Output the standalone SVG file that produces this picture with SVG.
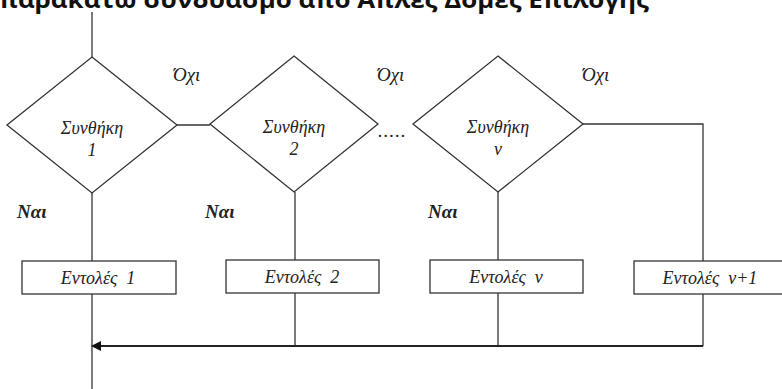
<svg xmlns="http://www.w3.org/2000/svg" width="782" height="389" viewBox="0 0 782 389">
<style>
.ln{stroke:#333;stroke-width:1.3;fill:none}
.shape{stroke:#333;stroke-width:1.3;fill:#fff}
.t{font-family:"Liberation Serif","Times New Roman",serif;font-style:italic;font-size:18px;fill:#222;text-anchor:middle}
.lab{font-family:"Liberation Serif","Times New Roman",serif;font-style:italic;font-size:19px;fill:#222}
.nai{font-family:"Liberation Serif","Times New Roman",serif;font-style:italic;font-weight:bold;font-size:19px;fill:#222}
.title{font-family:"Open Sans","DejaVu Sans",sans-serif;font-weight:bold;font-size:24px;fill:#111}
</style>
<text class="title" x="-1" y="8" textLength="650" lengthAdjust="spacingAndGlyphs">παρακάτω συνδυασμό από Απλές Δομές Επιλογής</text>
<g id="connectors">
<line class="ln" x1="92" y1="12" x2="92" y2="57"/>
<line class="ln" x1="177" y1="125" x2="210" y2="125"/>
<path class="ln" d="M583,124 H703 V261"/>
<line class="ln" x1="92" y1="193" x2="92" y2="261"/>
<line class="ln" x1="295" y1="192" x2="295" y2="260"/>
<line class="ln" x1="498" y1="192" x2="498" y2="260"/>
<line class="ln" x1="92" y1="294" x2="92" y2="389"/>
<line class="ln" x1="295" y1="293" x2="295" y2="346"/>
<line class="ln" x1="498" y1="293" x2="498" y2="346"/>
<line class="ln" x1="703" y1="294" x2="703" y2="346"/>
<path d="M703,346 H101" stroke="#222" stroke-width="2" fill="none"/>
<path d="M101,341 L91,346 L101,351 Z" fill="#111"/>
</g>
<g id="cond1">
<polygon class="shape" points="92,57 177,125 92,193 7,125"/>
<text class="t" x="92" y="134">Συνθήκη</text>
<text class="t" x="92" y="156">1</text>
</g>
<g id="cond2">
<polygon class="shape" points="294,56 378,124 294,192 210,124"/>
<text class="t" x="294" y="133">Συνθήκη</text>
<text class="t" x="294" y="155">2</text>
</g>
<text class="lab" x="378" y="137" font-style="normal" font-size="16" letter-spacing="1">.....</text>
<g id="condv">
<polygon class="shape" points="498,56 583,124 498,192 413,124"/>
<text class="t" x="498" y="133">Συνθήκη</text>
<text class="t" x="498" y="155">ν</text>
</g>
<g id="labels">
<text class="lab" x="173" y="81">Όχι</text>
<text class="lab" x="377" y="81">Όχι</text>
<text class="lab" x="582" y="81">Όχι</text>
<text class="nai" x="17" y="218">Ναι</text>
<text class="nai" x="205" y="218">Ναι</text>
<text class="nai" x="428" y="218">Ναι</text>
</g>
<g id="box1">
<rect class="shape" x="22" y="261" width="154" height="33"/>
<text class="t" x="98" y="284">Εντολές&#160; 1</text>
</g>
<g id="box2">
<rect class="shape" x="226" y="260" width="153" height="33"/>
<text class="t" x="302" y="283">Εντολές&#160; 2</text>
</g>
<g id="boxv">
<rect class="shape" x="430" y="260" width="153" height="33"/>
<text class="t" x="506" y="283">Εντολές&#160; ν</text>
</g>
<g id="boxv1">
<rect class="shape" x="634" y="261" width="160" height="33"/>
<text class="t" x="710" y="284">Εντολές&#160; ν+1</text>
</g>
</svg>
